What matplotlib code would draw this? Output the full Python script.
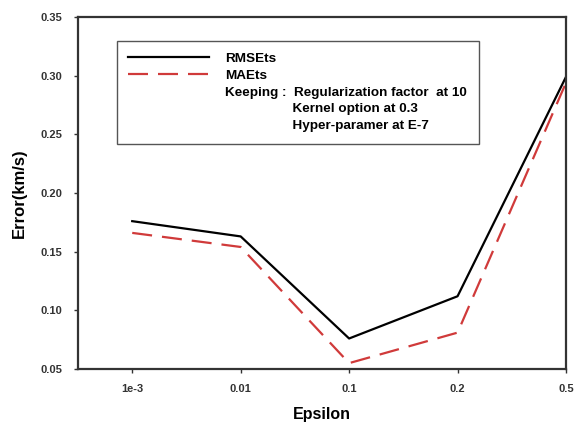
import matplotlib
matplotlib.use("Agg")
import matplotlib.pyplot as plt
from matplotlib.lines import Line2D

plt.rcParams['font.family'] = ['Liberation Sans', 'DejaVu Sans']
plt.rcParams['font.weight'] = 'bold'

# data
epsilon_labels = ['1e-3', '0.01', '0.1', '0.2', '0.5']
rmse = [0.176, 0.163, 0.076, 0.112, 0.299]
mae = [0.166, 0.154, 0.055, 0.081, 0.294]
y_ticks = [0.05, 0.10, 0.15, 0.20, 0.25, 0.30, 0.35]

x = list(range(len(epsilon_labels)))

fig = plt.figure(figsize=(5.76, 4.30), dpi=100)
ax = fig.add_axes([78 / 576, 1 - 369 / 430, (566 - 78) / 576, (369 - 17) / 430])

ax.plot(x, rmse, color='black', linewidth=1.6, label='RMSEts')
ax.plot(x, mae, color='#d03a3a', linewidth=1.6, dashes=(9, 4.5), label='MAEts')

ax.set_xlim(-0.5, 4)
ax.set_ylim(0.05, 0.35)
ax.set_xticks(x)
ax.set_xticklabels(epsilon_labels)
ax.set_yticks(y_ticks)
ax.set_yticklabels([f'{v:.2f}' for v in y_ticks])
ax.tick_params(axis='both', labelsize=8, colors='#333333', length=3, width=1, pad=8)

for sp in ax.spines.values():
    sp.set_color('#333333')
    sp.set_linewidth(1.6)

ax.set_xlabel('Epsilon', fontsize=11.5, fontweight='bold', labelpad=9)
ax.set_ylabel('Error(km/s)', fontsize=12, fontweight='bold', labelpad=10)

# legend: two series plus the "Keeping" note, all in one framed box
blank = Line2D([], [], color='none')
handles = [ax.lines[0], ax.lines[1], blank, blank, blank]
labels = ['RMSEts', 'MAEts',
          'Keeping :  Regularization factor  at 10',
          '                  Kernel option at 0.3',
          '                  Hyper-paramer at E-7']
leg = ax.legend(handles, labels, loc='upper left', bbox_to_anchor=(0.08, 0.932),
                fontsize=9.7, handlelength=6.0, handletextpad=1.2, labelspacing=0.33,
                borderpad=0.85, borderaxespad=0, fancybox=False, framealpha=1)
leg.get_frame().set_edgecolor('#555555')
leg.get_frame().set_linewidth(1.0)

fig.savefig('out.png', dpi=100)
